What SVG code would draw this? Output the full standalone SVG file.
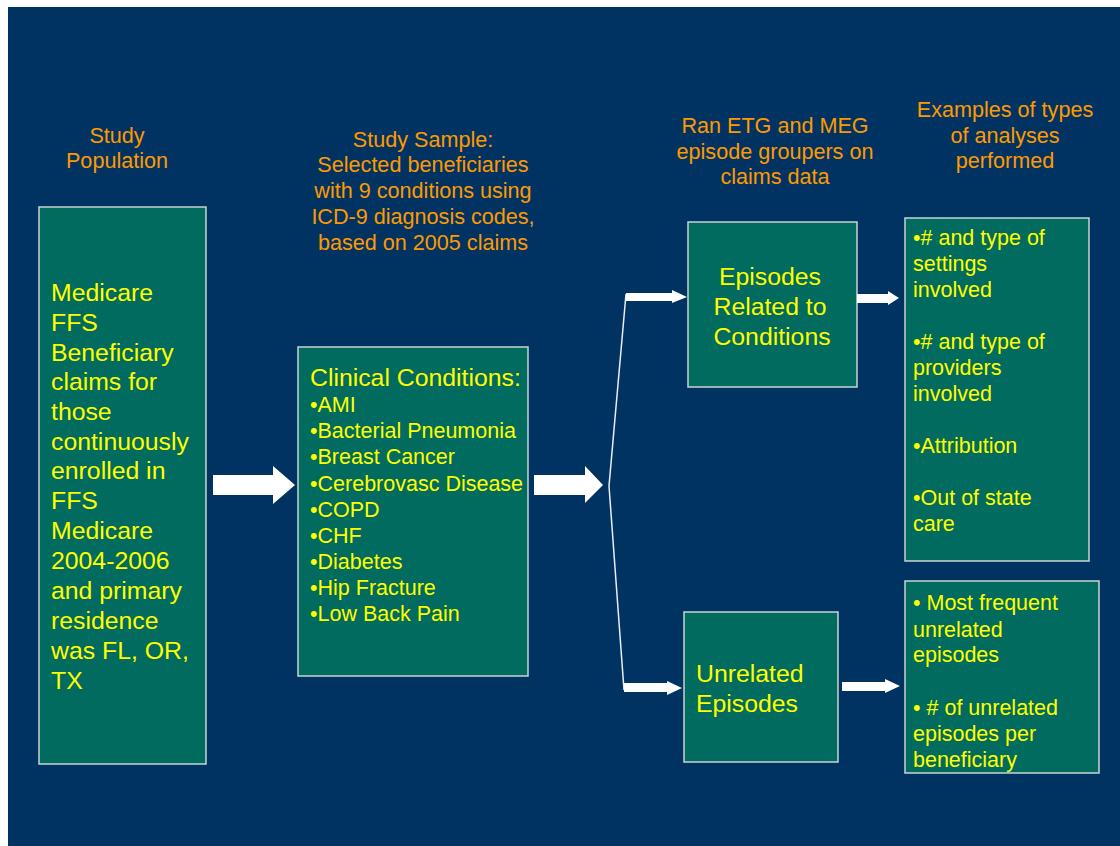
<svg xmlns="http://www.w3.org/2000/svg" width="1120" height="846" viewBox="0 0 1120 846">
  <style>
    .box { fill: #006B5E; stroke: #C8D4D4; stroke-width: 1.5; }
    .hdr { fill: #FF9900; font-family: "Liberation Sans", Arial, sans-serif; font-size: 21.6px; text-anchor: middle; }
    .big { fill: #FFFF00; font-family: "Liberation Sans", Arial, sans-serif; font-size: 24.8px; }
    .sm { fill: #FFFF00; font-family: "Liberation Sans", Arial, sans-serif; font-size: 21.5px; }
    .arrow { fill: #FFFFFF; }
    .fork { fill: none; stroke: #E8EEF4; stroke-width: 1.5; }
  </style>

  <rect x="0" y="0" width="1120" height="846" fill="#FFFFFF"/>
  <rect x="8" y="7" width="1112" height="839" fill="#003362"/>

  <!-- column headings -->
  <g id="headings">
    <text class="hdr" x="117" y="143">Study</text>
    <text class="hdr" x="117" y="168">Population</text>
    <text class="hdr" x="423" y="147">Study Sample:</text>
    <text class="hdr" x="423" y="172">Selected beneficiaries</text>
    <text class="hdr" x="423" y="198">with 9 conditions using</text>
    <text class="hdr" x="423" y="224">ICD-9 diagnosis codes,</text>
    <text class="hdr" x="423" y="250">based on 2005 claims</text>
    <text class="hdr" x="775" y="133">Ran ETG and MEG</text>
    <text class="hdr" x="775" y="159">episode groupers on</text>
    <text class="hdr" x="775" y="184">claims data</text>
    <text class="hdr" x="1005" y="117">Examples of types</text>
    <text class="hdr" x="1005" y="143">of analyses</text>
    <text class="hdr" x="1005" y="168">performed</text>
  </g>

  <g id="population">
    <rect class="box" x="39" y="207" width="167" height="557"/>
    <text class="big" x="51" y="301">Medicare</text>
    <text class="big" x="51" y="331">FFS</text>
    <text class="big" x="51" y="361">Beneficiary</text>
    <text class="big" x="51" y="390">claims for</text>
    <text class="big" x="51" y="420">those</text>
    <text class="big" x="51" y="450">continuously</text>
    <text class="big" x="51" y="479">enrolled in</text>
    <text class="big" x="51" y="509">FFS</text>
    <text class="big" x="51" y="539">Medicare</text>
    <text class="big" x="51" y="569">2004-2006</text>
    <text class="big" x="51" y="599">and primary</text>
    <text class="big" x="51" y="629">residence</text>
    <text class="big" x="51" y="659">was FL, OR,</text>
    <text class="big" x="51" y="689">TX</text>
  </g>

  <g id="conditions">
    <rect class="box" x="298" y="347" width="230" height="329"/>
    <text class="big" x="310" y="386">Clinical Conditions:</text>
    <text class="sm" x="310" y="412">•AMI</text>
    <text class="sm" x="310" y="438">•Bacterial Pneumonia</text>
    <text class="sm" x="310" y="464">•Breast Cancer</text>
    <text class="sm" x="310" y="491">•Cerebrovasc Disease</text>
    <text class="sm" x="310" y="517">•COPD</text>
    <text class="sm" x="310" y="543">•CHF</text>
    <text class="sm" x="310" y="569">•Diabetes</text>
    <text class="sm" x="310" y="595">•Hip Fracture</text>
    <text class="sm" x="310" y="621">•Low Back Pain</text>
  </g>

  <g id="related">
    <rect class="box" x="688" y="222" width="169" height="165"/>
    <text class="big" x="770" y="285" text-anchor="middle">Episodes</text>
    <text class="big" x="770" y="315" text-anchor="middle">Related to</text>
    <text class="big" x="772" y="345" text-anchor="middle">Conditions</text>
  </g>

  <g id="unrelated">
    <rect class="box" x="684" y="612" width="154" height="150"/>
    <text class="big" x="696" y="682">Unrelated</text>
    <text class="big" x="696" y="712">Episodes</text>
  </g>

  <g id="analyses-related">
    <rect class="box" x="905" y="218" width="184" height="343"/>
    <text class="sm" x="913" y="245">•# and type of</text>
    <text class="sm" x="913" y="271">settings</text>
    <text class="sm" x="913" y="297">involved</text>
    <text class="sm" x="913" y="349">•# and type of</text>
    <text class="sm" x="913" y="375">providers</text>
    <text class="sm" x="913" y="401">involved</text>
    <text class="sm" x="913" y="453">•Attribution</text>
    <text class="sm" x="913" y="505">•Out of state</text>
    <text class="sm" x="913" y="531">care</text>
  </g>

  <g id="analyses-unrelated">
    <rect class="box" x="905" y="581" width="194" height="192"/>
    <text class="sm" x="913" y="610">• Most frequent</text>
    <text class="sm" x="913" y="637">unrelated</text>
    <text class="sm" x="913" y="662">episodes</text>
    <text class="sm" x="913" y="715">• # of unrelated</text>
    <text class="sm" x="913" y="741">episodes per</text>
    <text class="sm" x="913" y="767">beneficiary</text>
  </g>

  <g id="connectors">
    <!-- block arrows -->
    <polygon class="arrow" points="213,475 273,475 273,466 295,485 273,504 273,495 213,495"/>
    <polygon class="arrow" points="534,475 585,475 585,466 603,485 585,503 585,495 534,495"/>
    <!-- fork from the sample to both episode groups -->
    <polyline class="fork" points="626,294 609,486 624,690"/>
    <polygon class="arrow" points="626,293 672,293 672,290 687,297 672,303 672,301 626,301"/>
    <polygon class="arrow" points="624,683 667,683 667,681 682,688 667,695 667,692 624,692"/>
    <!-- arrows into the analysis boxes -->
    <polygon class="arrow" points="857,294 888,294 888,291 899,298 888,305 888,303 857,303"/>
    <polygon class="arrow" points="842,682 885,682 885,679 900,686 885,693 885,691 842,691"/>
  </g>
</svg>
